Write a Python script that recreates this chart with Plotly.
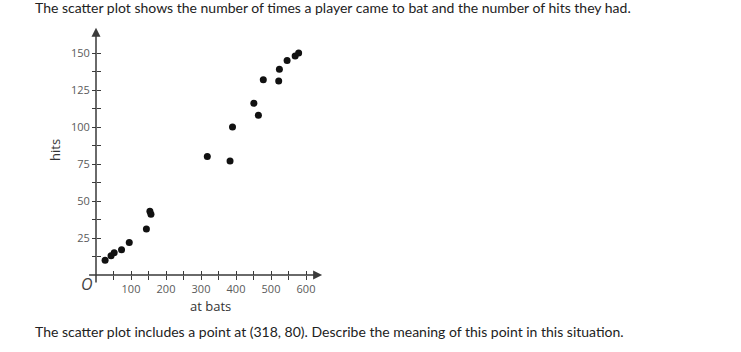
import plotly.graph_objects as go

# Data
at_bats = [26, 43, 52, 73, 95, 144, 154, 157, 318, 383, 390, 451, 464, 478, 522, 524, 546, 569, 579]
hits = [10, 13, 15, 17, 22, 31, 43, 41, 80, 77, 100, 116, 108, 132, 131, 139, 145, 148, 150]

x_tick_vals = [50, 100, 150, 200, 250, 300, 350, 400, 450, 500, 550, 600]
x_tick_text = ["", "100", "", "200", "", "300", "", "400", "", "500", "", "600"]
y_tick_vals = [12.5, 25, 37.5, 50, 62.5, 75, 87.5, 100, 112.5, 125, 137.5, 150]
y_tick_text = ["", "25", "", "50", "", "75", "", "100", "", "125", "", "150"]

W, H = 741, 352
X_MIN, X_MAX = -24, 646
Y_MIN, Y_MAX = -6, 167
PX_X = 0.35   # pixels per at-bat
PX_Y = 1.48   # pixels per hit
left = 96 + X_MIN * PX_X
right = 96 + X_MAX * PX_X
bottom = 275 - Y_MIN * PX_Y
top = 275 - Y_MAX * PX_Y
xdom = [left / W, right / W]
ydom = [(H - bottom) / H, (H - top) / H]

axis_color = "#3a3a3a"
tick_font = dict(family="Open Sans", size=11, color="#5a5a5a")

fig = go.Figure()
fig.add_trace(go.Scatter(
    x=at_bats, y=hits, mode="markers",
    marker=dict(color="#111111", size=7),
    hoverinfo="skip", showlegend=False,
))
# invisible trace on overlay axes (for crossing ticks)
fig.add_trace(go.Scatter(x=[None], y=[None], xaxis="x2", yaxis="y2",
                         mode="markers", showlegend=False, hoverinfo="skip"))

common = dict(showgrid=False, zeroline=False, showline=False, fixedrange=True,
              tickcolor=axis_color, tickwidth=1, ticklen=4)
fig.update_layout(
    width=W, height=H,
    margin=dict(l=0, r=0, t=0, b=0),
    paper_bgcolor="white", plot_bgcolor="white",
    xaxis=dict(domain=xdom, range=[X_MIN, X_MAX], tickvals=x_tick_vals, ticktext=x_tick_text,
               ticks="outside", tickfont=tick_font, anchor="free", position=(H - 275) / H, **common),
    yaxis=dict(domain=ydom, range=[Y_MIN, Y_MAX], tickvals=y_tick_vals, ticktext=y_tick_text,
               ticks="outside", tickfont=tick_font, anchor="free", position=96 / W, **common),
    xaxis2=dict(domain=xdom, range=[X_MIN, X_MAX], overlaying="x", anchor="free",
                position=(H - 275) / H, tickvals=x_tick_vals, showticklabels=False,
                ticks="inside", **common),
    yaxis2=dict(domain=ydom, range=[Y_MIN, Y_MAX], overlaying="y", anchor="free",
                position=96 / W, tickvals=y_tick_vals, showticklabels=False,
                ticks="inside", **common),
)

# axis lines with arrows
fig.add_annotation(x=0, y=Y_MAX, ax=0, ay=Y_MIN, xref="x", yref="y", axref="x", ayref="y",
                   text="", showarrow=True, arrowhead=2, arrowsize=1.2, arrowwidth=1.5,
                   arrowcolor=axis_color)
fig.add_annotation(x=X_MAX, y=0, ax=X_MIN, ay=0, xref="x", yref="y", axref="x", ayref="y",
                   text="", showarrow=True, arrowhead=2, arrowsize=1.2, arrowwidth=1.5,
                   arrowcolor=axis_color)

def px(xp, yp):
    return xp / W, 1 - yp / H

# texts
x, y = px(33, 7)
fig.add_annotation(x=x, y=y, xref="paper", yref="paper", xanchor="left", yanchor="middle",
                   showarrow=False,
                   text="The scatter plot shows the number of times a player came to bat and the number of hits they had.",
                   font=dict(family="Lato", size=14, color="#222222"))
x, y = px(33, 331)
fig.add_annotation(x=x, y=y, xref="paper", yref="paper", xanchor="left", yanchor="middle",
                   showarrow=False,
                   text="The scatter plot includes a point at (318, 80). Describe the meaning of this point in this situation.",
                   font=dict(family="Lato", size=14, color="#222222"))
x, y = px(210, 306)
fig.add_annotation(x=x, y=y, xref="paper", yref="paper", xanchor="center", yanchor="middle",
                   showarrow=False, text="at bats",
                   font=dict(family="Open Sans", size=13, color="#333333"))
x, y = px(55, 150)
fig.add_annotation(x=x, y=y, xref="paper", yref="paper", xanchor="center", yanchor="middle",
                   showarrow=False, text="hits", textangle=-90,
                   font=dict(family="Open Sans", size=13, color="#333333"))
x, y = px(87, 284)
fig.add_annotation(x=x, y=y, xref="paper", yref="paper", xanchor="center", yanchor="middle",
                   showarrow=False, text="<i>O</i>",
                   font=dict(family="Open Sans", size=16, color="#444444"))

fig.write_html("out.html")
